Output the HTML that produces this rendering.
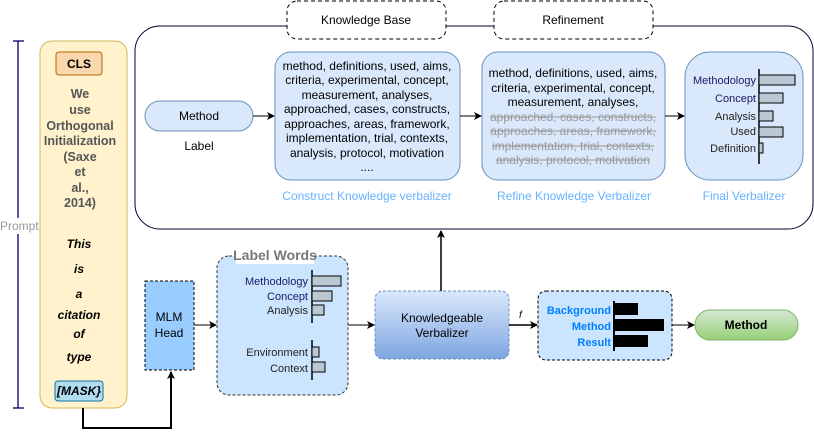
<!DOCTYPE html>
<html><head><meta charset="utf-8"><style>
html,body{margin:0;padding:0;background:#fff;}
svg{display:block;font-family:"Liberation Sans",sans-serif;}
</style></head><body>
<svg width="814" height="438" viewBox="0 0 814 438" xmlns="http://www.w3.org/2000/svg">
<defs>
<marker id="a" markerWidth="8" markerHeight="8" refX="7" refY="4" orient="auto" markerUnits="userSpaceOnUse"><path d="M0,0 L8,4 L0,8 L2,4 z" fill="#000"/></marker>
<linearGradient id="kv" x1="0" y1="0" x2="0" y2="1"><stop offset="0" stop-color="#dae8fc"/><stop offset="1" stop-color="#7ea6e0"/></linearGradient>
<linearGradient id="gr" x1="0" y1="0" x2="0" y2="1"><stop offset="0" stop-color="#d5e8d4"/><stop offset="1" stop-color="#97d077"/></linearGradient>
</defs>
<line x1="18" y1="41" x2="18" y2="408" stroke="#000066" stroke-width="1.3"/>
<line x1="13" y1="41" x2="24" y2="41" stroke="#000066" stroke-width="1.3"/>
<line x1="13" y1="408" x2="24" y2="408" stroke="#000066" stroke-width="1.3"/>
<rect x="0" y="218" width="38" height="16" fill="#fff"/>
<text x="0" y="230" font-size="12" fill="#999">Prompt</text>
<rect x="40" y="41" width="87" height="367" rx="12" fill="#fff2cc" stroke="#d6b656"/>
<rect x="56" y="52" width="46" height="23" rx="3" fill="#fad7ac" stroke="#b46504"/>
<text x="79" y="68" font-size="12" font-weight="bold" text-anchor="middle">CLS</text>
<g font-size="12.5" font-weight="bold" fill="#555" text-anchor="middle">
<text x="80" y="98">We</text><text x="80" y="114">use</text><text x="80" y="130">Orthogonal</text><text x="80" y="145">Initialization</text><text x="80" y="161">(Saxe</text><text x="80" y="176">et</text><text x="80" y="192">al.,</text><text x="80" y="207">2014)</text>
</g>
<g font-size="12" font-weight="bold" font-style="italic" text-anchor="middle">
<text x="79" y="248">This</text><text x="79" y="273">is</text><text x="79" y="298">a</text><text x="79" y="319">citation</text><text x="79" y="338">of</text><text x="79" y="361">type</text>
</g>
<rect x="55" y="381" width="48" height="20" rx="3" fill="#b1ddf0" stroke="#10739e"/>
<text x="79" y="395" font-size="12" font-weight="bold" font-style="italic" text-anchor="middle">[MASK}</text>
<rect x="135" y="26" width="678" height="203" rx="25" fill="#fff" stroke="#000033" stroke-width="1"/>
<rect x="287" y="1" width="159" height="38" rx="10" fill="#fff" stroke="#000" stroke-dasharray="4 3"/>
<text x="366" y="24" font-size="12" text-anchor="middle">Knowledge Base</text>
<rect x="494" y="1" width="159" height="38" rx="10" fill="#fff" stroke="#000" stroke-dasharray="4 3"/>
<text x="573" y="24" font-size="12" text-anchor="middle">Refinement</text>
<rect x="145" y="101" width="108" height="30" rx="15" fill="#dae8fc" stroke="#6c8ebf"/>
<text x="199" y="120" font-size="12" text-anchor="middle">Method</text>
<text x="199" y="150" font-size="12" text-anchor="middle">Label</text>
<line x1="253" y1="116" x2="274" y2="116" stroke="#000" marker-end="url(#a)"/>
<rect x="275" y="52" width="185" height="128" rx="16" fill="#dae8fc" stroke="#6c8ebf"/>
<g font-size="12" text-anchor="middle">
<text x="367" y="70">method, definitions, used, aims,</text>
<text x="367" y="84">criteria, experimental, concept,</text>
<text x="367" y="99">measurement, analyses,</text>
<text x="367" y="113">approached, cases, constructs,</text>
<text x="367" y="128">approaches, areas, framework,</text>
<text x="367" y="142">implementation, trial, contexts,</text>
<text x="367" y="157">analysis, protocol, motivation</text>
<text x="367" y="171">....</text>
</g>
<line x1="460" y1="116" x2="481" y2="116" stroke="#000" marker-end="url(#a)"/>
<rect x="482" y="52" width="183" height="128" rx="16" fill="#dae8fc" stroke="#6c8ebf"/>
<g font-size="12" text-anchor="middle">
<text x="573" y="77">method, definitions, used, aims,</text>
<text x="573" y="92">criteria, experimental, concept,</text>
<text x="573" y="106">measurement, analyses,</text>
<g fill="#999">
<text x="573" y="121">approached, cases, constructs,</text>
<text x="573" y="135">approaches, areas, framework,</text>
<text x="573" y="150">implementation, trial, contexts,</text>
<text x="573" y="164">analysis, protocol, motivation</text>
</g>
<g stroke="#999" stroke-width="1">
<line x1="490" y1="117" x2="656" y2="117"/><line x1="490" y1="131" x2="656" y2="131"/><line x1="492" y1="146" x2="654" y2="146"/><line x1="496" y1="160" x2="650" y2="160"/>
</g>
</g>
<line x1="665" y1="116" x2="684" y2="116" stroke="#000" marker-end="url(#a)"/>
<rect x="685" y="52" width="118" height="128" rx="25" fill="#dae8fc" stroke="#6c8ebf"/>
<line x1="759" y1="69" x2="759" y2="164" stroke="#000" stroke-width="1.5"/>
<g fill="#bac8d3" stroke="#000">
<rect x="759" y="75" width="36" height="10"/><rect x="759" y="93" width="24" height="10"/><rect x="759" y="111" width="14" height="10"/><rect x="759" y="127" width="24" height="10"/><rect x="759" y="143" width="4" height="10"/>
</g>
<g font-size="11" text-anchor="end" fill="#1a1a66">
<text x="756" y="84">Methodology</text><text x="756" y="102">Concept</text><text x="756" y="120" fill="#222">Analysis</text><text x="756" y="135" fill="#222">Used</text><text x="756" y="152" fill="#222">Definition</text>
</g>
<g font-size="12" fill="#66b2ff" text-anchor="middle">
<text x="367" y="200">Construct Knowledge verbalizer</text>
<text x="574" y="200">Refine Knowledge Verbalizer</text>
<text x="744" y="200">Final Verbalizer</text>
</g>
<polyline points="83,408 83,428 171,428 171,372" fill="none" stroke="#000" stroke-width="2" marker-end="url(#a)"/>
<rect x="145" y="281" width="49" height="89" fill="#99ccff" stroke="#000" stroke-dasharray="3 2"/>
<text x="169" y="321" font-size="12" text-anchor="middle">MLM</text>
<text x="169" y="337" font-size="12" text-anchor="middle">Head</text>
<line x1="194" y1="325" x2="216" y2="325" stroke="#000" marker-end="url(#a)"/>
<rect x="217" y="256" width="131" height="139" rx="12" fill="#cce5ff" stroke="#333" stroke-dasharray="3 2"/>
<rect x="236" y="247" width="78" height="17" fill="#fff"/>
<text x="275" y="260" font-size="14" font-weight="bold" fill="#777" text-anchor="middle">Label Words</text>
<line x1="312" y1="270" x2="312" y2="323" stroke="#000" stroke-width="1.5"/>
<line x1="312" y1="340" x2="312" y2="380" stroke="#000" stroke-width="1.5"/>
<g fill="#bac8d3" stroke="#000">
<rect x="312" y="276" width="29" height="10"/><rect x="312" y="291" width="20" height="10"/><rect x="312" y="305" width="12" height="10"/><rect x="312" y="347" width="7" height="10"/><rect x="312" y="362" width="13" height="10"/>
</g>
<g font-size="11" text-anchor="end" fill="#1a1a66">
<text x="308" y="285">Methodology</text><text x="308" y="300">Concept</text><text x="308" y="314" fill="#222">Analysis</text><text x="308" y="356" fill="#222">Environment</text><text x="308" y="372" fill="#222">Context</text>
</g>
<line x1="348" y1="325" x2="374" y2="325" stroke="#000" marker-end="url(#a)"/>
<rect x="375" y="291" width="134" height="68" rx="8" fill="url(#kv)" stroke="#6c8ebf" stroke-dasharray="3 2"/>
<text x="442" y="322" font-size="12" text-anchor="middle">Knowledgeable</text>
<text x="442" y="337" font-size="12" text-anchor="middle">Verbalizer</text>
<line x1="441" y1="291" x2="441" y2="231" stroke="#000" stroke-width="1.5" marker-end="url(#a)"/>
<line x1="509" y1="325" x2="537" y2="325" stroke="#000" stroke-width="1.5" marker-end="url(#a)"/>
<text x="519" y="318" font-size="10" font-style="italic">f</text>
<rect x="538" y="291" width="134" height="69" rx="8" fill="#cce5ff" stroke="#000" stroke-dasharray="3 2"/>
<line x1="614" y1="301" x2="614" y2="351" stroke="#000" stroke-width="2"/>
<g fill="#000"><rect x="614" y="303" width="24" height="12"/><rect x="614" y="319" width="50" height="12"/><rect x="614" y="335" width="34" height="12"/></g>
<g font-size="11" font-weight="bold" fill="#007fff" text-anchor="end">
<text x="611" y="314">Background</text><text x="611" y="330">Method</text><text x="611" y="346">Result</text>
</g>
<line x1="672" y1="325" x2="694" y2="325" stroke="#000" marker-end="url(#a)"/>
<rect x="695" y="310" width="103" height="30" rx="15" fill="url(#gr)" stroke="#82b366"/>
<text x="746" y="329" font-size="12" font-weight="bold" text-anchor="middle">Method</text>
</svg>
</body></html>
